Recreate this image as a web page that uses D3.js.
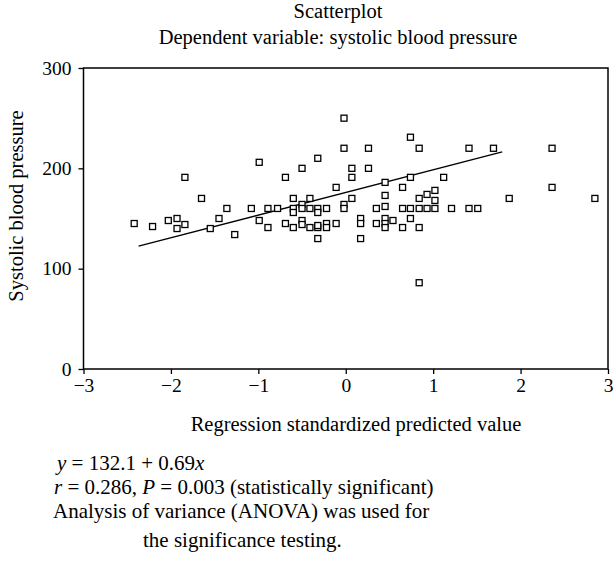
<!DOCTYPE html>
<html>
<head>
<meta charset="utf-8">
<script src="https://cdn.jsdelivr.net/npm/d3@7"></script>
<style>
  body { margin: 0; background: #fff; }
  text { font-family: "Liberation Serif", "DejaVu Serif", serif; fill: #000; }
</style>
</head>
<body>
<div id="viz"></div>
<script>
// standardized predicted value (x) and systolic blood pressure (y)
let predX = [-2.42, -2.21, -2.03, -1.93, -1.93, -1.84, -1.84, -1.65, -1.55, -1.45,
             -1.36, -1.27, -1.08, -0.99, -0.99, -0.89, -0.89, -0.78, -0.69, -0.69,
             -0.60, -0.60, -0.60, -0.60, -0.50, -0.50, -0.50, -0.50, -0.50, -0.41,
             -0.41, -0.41, -0.32, -0.32, -0.32, -0.32, -0.32, -0.32, -0.22, -0.22,
             -0.22, -0.11, -0.11, -0.02, -0.02, -0.02, -0.02, 0.07, 0.07, 0.07,
             0.17, 0.17, 0.17, 0.26, 0.26, 0.35, 0.35, 0.45, 0.45, 0.45,
             0.45, 0.45, 0.45, 0.54, 0.65, 0.65, 0.65, 0.74, 0.74, 0.74,
             0.74, 0.84, 0.84, 0.84, 0.84, 0.84, 0.93, 0.93, 1.02, 1.02,
             1.02, 1.12, 1.21, 1.41, 1.41, 1.51, 1.69, 1.87, 2.36, 2.36, 2.85];
let sbp   = [145, 142, 148, 150, 140, 144, 191, 170, 140, 150,
             160, 134, 160, 206, 148, 160, 141, 160, 191, 145,
             170, 160, 156, 141, 200, 164, 160, 148, 144, 170,
             160, 141, 210, 160, 156, 141, 143, 130, 160, 145,
             141, 181, 145, 250, 220, 164, 160, 200, 191, 170,
             150, 145, 130, 220, 200, 160, 145, 186, 173, 162,
             150, 145, 141, 148, 181, 160, 141, 231, 191, 160,
             150, 220, 170, 160, 141, 86, 174, 160, 178, 168,
             160, 191, 160, 220, 160, 160, 220, 170, 220, 181, 170];

// fitted line end points
let fitX = [-2.37, 1.79];
let fitY = [122.5, 216.4];

let xTicks = [-3, -2, -1, 0, 1, 2, 3];
let yTicks = [0, 100, 200, 300];

let titleLines = ['Scatterplot', 'Dependent variable: systolic blood pressure'];
let xLabel = 'Regression standardized predicted value';
let yLabel = 'Systolic blood pressure';

let margin = { top: 68, right: 6, bottom: 193, left: 83.5 },
    width = 614 - margin.left - margin.right,
    height = 562 - margin.top - margin.bottom;

let xScale = d3.scaleLinear().domain([-3, 3]).range([0, width]);
let yScale = d3.scaleLinear().domain([0, 300]).range([height, 0]);

let svg = d3.select('#viz').append('svg')
  .attr('width', 614)
  .attr('height', 562);

let chart = svg.append('g')
  .attr('transform', 'translate(' + margin.left + ',' + margin.top + ')');

// axes
let xAxis = d3.axisBottom(xScale).tickValues(xTicks).tickSize(5).tickPadding(4)
  .tickFormat(d3.format('d'));
let yAxis = d3.axisLeft(yScale).tickValues(yTicks).tickSize(5).tickPadding(7)
  .tickFormat(d3.format('d'));

let xGuide = chart.append('g')
  .attr('transform', 'translate(0,' + height + ')')
  .call(xAxis);
let yGuide = chart.append('g').call(yAxis);

[xGuide, yGuide].forEach(function(g) {
  g.select('.domain').remove();
  g.selectAll('line').attr('stroke', '#000').attr('stroke-width', 1.3);
  g.selectAll('text').attr('font-size', 19.5).attr('font-family', '"Liberation Serif", serif');
});

// frame
chart.append('rect')
  .attr('x', 0).attr('y', 0)
  .attr('width', width).attr('height', height)
  .attr('fill', 'none')
  .attr('stroke', '#000')
  .attr('stroke-width', 1.5);

// regression line
let line = d3.line()
  .x(function(d) { return xScale(d[0]); })
  .y(function(d) { return yScale(d[1]); });

chart.append('path')
  .datum(d3.zip(fitX, fitY))
  .attr('d', line)
  .attr('fill', 'none')
  .attr('stroke', '#000')
  .attr('stroke-width', 1.4);

// points
let sq = 6;
chart.selectAll('rect.pt').data(d3.zip(predX, sbp))
  .enter().append('rect')
  .attr('class', 'pt')
  .attr('x', function(d) { return xScale(d[0]) - sq / 2; })
  .attr('y', function(d) { return yScale(d[1]) - sq / 2; })
  .attr('width', sq)
  .attr('height', sq)
  .attr('fill', '#fff')
  .attr('stroke', '#000')
  .attr('stroke-width', 1.3);

// titles
svg.selectAll('text.title').data(titleLines)
  .enter().append('text')
  .attr('class', 'title')
  .attr('x', 338)
  .attr('y', function(d, i) { return 18 + i * 26; })
  .attr('text-anchor', 'middle')
  .attr('font-size', 20.5)
  .text(function(d) { return d; });

svg.append('text')
  .attr('x', 356)
  .attr('y', 431)
  .attr('text-anchor', 'middle')
  .attr('font-size', 20.5)
  .text(xLabel);

svg.append('text')
  .attr('transform', 'translate(23,206) rotate(-90)')
  .attr('text-anchor', 'middle')
  .attr('font-size', 20.5)
  .text(yLabel);

// notes under the chart
let notes = svg.append('g').attr('font-size', 21);

let n1 = notes.append('text').attr('x', 57).attr('y', 470);
n1.append('tspan').attr('font-style', 'italic').text('y');
n1.append('tspan').text(' = 132.1 + 0.69');
n1.append('tspan').attr('font-style', 'italic').text('x');

let n2 = notes.append('text').attr('x', 54).attr('y', 494);
n2.append('tspan').attr('font-style', 'italic').text('r');
n2.append('tspan').text(' = 0.286, ');
n2.append('tspan').attr('font-style', 'italic').text('P');
n2.append('tspan').text(' = 0.003 (statistically significant)');

notes.append('text').attr('x', 53).attr('y', 518)
  .text('Analysis of variance (ANOVA) was used for');
notes.append('text').attr('x', 143).attr('y', 547)
  .text('the significance testing.');
</script>
</body>
</html>
